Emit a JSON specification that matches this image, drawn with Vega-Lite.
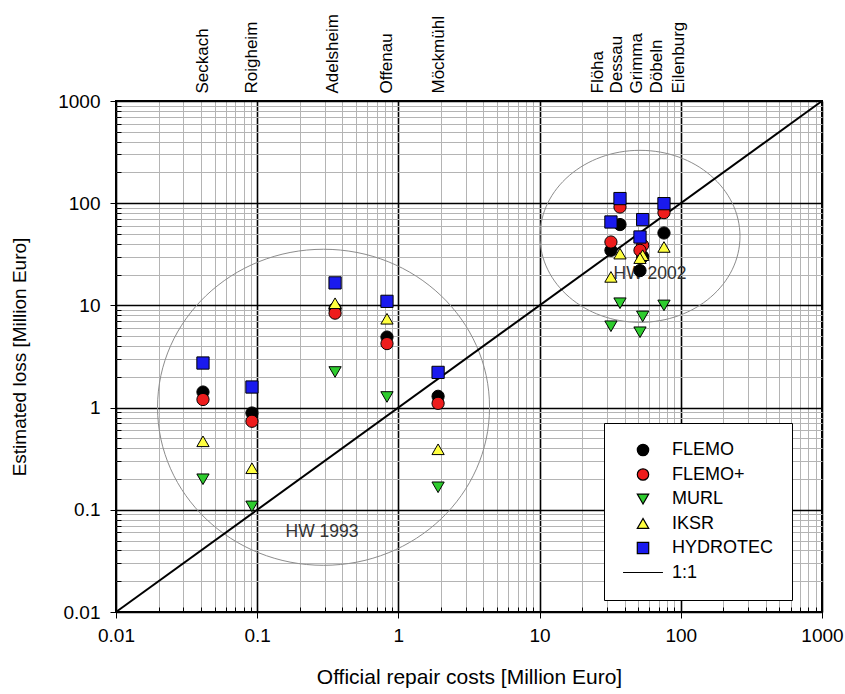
{
  "$schema": "https://vega.github.io/schema/vega-lite/v6.json",
  "width": 706,
  "height": 511,
  "autosize": {"type": "none"},
  "padding": {"left": 116, "top": 101, "right": 23, "bottom": 82},
  "background": "white",
  "config": {
    "font": "Liberation Sans",
    "view": {"stroke": "black", "strokeWidth": 2},
    "legend": {
      "strokeColor": "black",
      "fillColor": "white",
      "padding": 18,
      "symbolSize": 130,
      "symbolStrokeColor": "black",
      "symbolStrokeWidth": 1.2,
      "symbolOffset": 12,
      "labelOffset": 20,
      "labelFontSize": 18,
      "labelColor": "black",
      "rowPadding": 6.5,
      "labelLimit": 300
    }
  },
  "datasets": {
    "points": [
      {"site": "Seckach", "model": "FLEMO", "x": 0.0413, "y": 1.42},
      {"site": "Roigheim", "model": "FLEMO", "x": 0.0918, "y": 0.885},
      {"site": "Adelsheim", "model": "FLEMO", "x": 0.356, "y": 9.3},
      {"site": "Offenau", "model": "FLEMO", "x": 0.83, "y": 4.9},
      {"site": "Möckmühl", "model": "FLEMO", "x": 1.91, "y": 1.29},
      {"site": "Flöha", "model": "FLEMO", "x": 32.0, "y": 34.6},
      {"site": "Dessau", "model": "FLEMO", "x": 37.1, "y": 61.8},
      {"site": "Grimma", "model": "FLEMO", "x": 53.7, "y": 30.0},
      {"site": "Döbeln", "model": "FLEMO", "x": 51.4, "y": 21.9},
      {"site": "Eilenburg", "model": "FLEMO", "x": 76.0, "y": 51.1},
      {"site": "Seckach", "model": "FLEMO+", "x": 0.0413, "y": 1.2},
      {"site": "Roigheim", "model": "FLEMO+", "x": 0.0918, "y": 0.735},
      {"site": "Adelsheim", "model": "FLEMO+", "x": 0.356, "y": 8.4},
      {"site": "Offenau", "model": "FLEMO+", "x": 0.83, "y": 4.23},
      {"site": "Möckmühl", "model": "FLEMO+", "x": 1.91, "y": 1.1},
      {"site": "Flöha", "model": "FLEMO+", "x": 32.0, "y": 41.7},
      {"site": "Dessau", "model": "FLEMO+", "x": 37.1, "y": 91.8},
      {"site": "Grimma", "model": "FLEMO+", "x": 53.7, "y": 38.7},
      {"site": "Döbeln", "model": "FLEMO+", "x": 51.4, "y": 34.6},
      {"site": "Eilenburg", "model": "FLEMO+", "x": 76.0, "y": 80.9},
      {"site": "Seckach", "model": "MURL", "x": 0.0413, "y": 0.199},
      {"site": "Roigheim", "model": "MURL", "x": 0.0918, "y": 0.108},
      {"site": "Adelsheim", "model": "MURL", "x": 0.356, "y": 2.23},
      {"site": "Offenau", "model": "MURL", "x": 0.83, "y": 1.27},
      {"site": "Möckmühl", "model": "MURL", "x": 1.91, "y": 0.166},
      {"site": "Flöha", "model": "MURL", "x": 32.0, "y": 6.25},
      {"site": "Dessau", "model": "MURL", "x": 37.1, "y": 10.5},
      {"site": "Grimma", "model": "MURL", "x": 53.7, "y": 7.8},
      {"site": "Döbeln", "model": "MURL", "x": 51.4, "y": 5.46},
      {"site": "Eilenburg", "model": "MURL", "x": 76.0, "y": 10.0},
      {"site": "Seckach", "model": "IKSR", "x": 0.0413, "y": 0.468},
      {"site": "Roigheim", "model": "IKSR", "x": 0.0918, "y": 0.255},
      {"site": "Adelsheim", "model": "IKSR", "x": 0.356, "y": 10.5},
      {"site": "Offenau", "model": "IKSR", "x": 0.83, "y": 7.4},
      {"site": "Möckmühl", "model": "IKSR", "x": 1.91, "y": 0.391},
      {"site": "Flöha", "model": "IKSR", "x": 32.0, "y": 19.0},
      {"site": "Dessau", "model": "IKSR", "x": 37.1, "y": 32.1},
      {"site": "Grimma", "model": "IKSR", "x": 53.7, "y": 31.0},
      {"site": "Döbeln", "model": "IKSR", "x": 51.4, "y": 29.0},
      {"site": "Eilenburg", "model": "IKSR", "x": 76.0, "y": 37.3},
      {"site": "Seckach", "model": "HYDROTEC", "x": 0.0413, "y": 2.73},
      {"site": "Roigheim", "model": "HYDROTEC", "x": 0.0918, "y": 1.59},
      {"site": "Adelsheim", "model": "HYDROTEC", "x": 0.356, "y": 16.6},
      {"site": "Offenau", "model": "HYDROTEC", "x": 0.83, "y": 10.96},
      {"site": "Möckmühl", "model": "HYDROTEC", "x": 1.91, "y": 2.21},
      {"site": "Flöha", "model": "HYDROTEC", "x": 32.0, "y": 65.5},
      {"site": "Dessau", "model": "HYDROTEC", "x": 37.1, "y": 111},
      {"site": "Grimma", "model": "HYDROTEC", "x": 53.7, "y": 69.1},
      {"site": "Döbeln", "model": "HYDROTEC", "x": 51.4, "y": 46.7},
      {"site": "Eilenburg", "model": "HYDROTEC", "x": 76.0, "y": 99}
    ],
    "oneToOne": [
      {"x": 0.01, "y": 0.01},
      {"x": 1000, "y": 1000}
    ],
    "hw1993": [{"x": 0.295, "y": 1.007}],
    "hw2002": [{"x": 51.4, "y": 47.4}],
    "notes": [
      {"label": "HW 1993", "x": 0.288, "y": 0.0602},
      {"label": "HW 2002", "x": 60.5, "y": 20.1}
    ]
  },
  "resolve": {"axis": {"x": "independent", "y": "independent"}},
  "layer": [
    {
      "data": {"name": "hw1993"},
      "mark": {"type": "point", "shape": "M -1 0 A 1 0.952 0 1 1 1 0 A 1 0.952 0 1 1 -1 0 Z", "size": 110224, "filled": false, "stroke": "#8c8c8c", "strokeWidth": 1, "opacity": 1},
      "encoding": {
        "x": {"field": "x", "type": "quantitative", "scale": {"type": "log", "domain": [0.01, 1000], "nice": false}, "axis": null},
        "y": {"field": "y", "type": "quantitative", "scale": {"type": "log", "domain": [0.01, 1000], "nice": false}, "axis": null}
      }
    },
    {
      "data": {"name": "hw2002"},
      "mark": {"type": "point", "shape": "M -1 0 A 1 0.86 0 1 1 1 0 A 1 0.86 0 1 1 -1 0 Z", "size": 40000, "filled": false, "stroke": "#8c8c8c", "strokeWidth": 1, "opacity": 1},
      "encoding": {
        "x": {"field": "x", "type": "quantitative", "scale": {"type": "log", "domain": [0.01, 1000], "nice": false}, "axis": null},
        "y": {"field": "y", "type": "quantitative", "scale": {"type": "log", "domain": [0.01, 1000], "nice": false}, "axis": null}
      }
    },
    {
      "data": {"name": "notes"},
      "mark": {"type": "text", "fontSize": 17.5, "color": "#333333", "align": "center", "baseline": "middle"},
      "encoding": {
        "x": {"field": "x", "type": "quantitative", "scale": {"type": "log", "domain": [0.01, 1000], "nice": false}, "axis": null},
        "y": {"field": "y", "type": "quantitative", "scale": {"type": "log", "domain": [0.01, 1000], "nice": false}, "axis": null},
        "text": {"field": "label", "type": "nominal"}
      }
    },
    {
      "data": {"name": "oneToOne"},
      "mark": {"type": "line", "color": "black", "strokeWidth": 2},
      "encoding": {
        "x": {
          "field": "x", "type": "quantitative",
          "scale": {"type": "log", "domain": [0.01, 1000], "nice": false},
          "axis": {
            "orient": "top",
            "values": [0.0413, 0.0918, 0.344, 0.817, 1.91, 25.5, 34.8, 48.2, 67.8, 97.1],
            "labelExpr": "datum.value < 0.06 ? 'Seckach' : datum.value < 0.2 ? 'Roigheim' : datum.value < 0.5 ? 'Adelsheim' : datum.value < 1.2 ? 'Offenau' : datum.value < 5 ? 'Möckmühl' : datum.value < 30 ? 'Flöha' : datum.value < 40 ? 'Dessau' : datum.value < 55 ? 'Grimma' : datum.value < 80 ? 'Döbeln' : 'Eilenburg'",
            "ticks": false,
            "domain": false,
            "grid": false,
            "labelAngle": 270,
            "labelAlign": "left",
            "labelBaseline": "middle",
            "labelFontSize": 17,
            "labelColor": "black",
            "labelPadding": 8,
            "labelOverlap": false,
            "labelBound": false,
            "labelFlush": false,
            "title": null
          }
        },
        "y": {"field": "y", "type": "quantitative", "scale": {"type": "log", "domain": [0.01, 1000], "nice": false}, "axis": null}
      }
    },
    {
      "data": {"name": "points"},
      "mark": {"type": "point", "filled": true, "size": 150, "strokeWidth": 1, "opacity": 1},
      "encoding": {
        "x": {
          "field": "x", "type": "quantitative",
          "scale": {"type": "log", "domain": [0.01, 1000], "nice": false},
          "axis": {
            "orient": "bottom",
            "values": [0.01,0.02,0.03,0.04,0.05,0.06,0.07,0.08,0.09,0.1,0.2,0.3,0.4,0.5,0.6,0.7,0.8,0.9,1,2,3,4,5,6,7,8,9,10,20,30,40,50,60,70,80,90,100,200,300,400,500,600,700,800,900,1000],
            "grid": true,
            "gridColor": {"condition": {"test": "abs(log(datum.value)/LN10 - round(log(datum.value)/LN10)) < 1e-6", "value": "black"}, "value": "#b4b4b4"},
            "gridWidth": {"condition": {"test": "abs(log(datum.value)/LN10 - round(log(datum.value)/LN10)) < 1e-6", "value": 1.6}, "value": 1},
            "tickSize": {"condition": {"test": "abs(log(datum.value)/LN10 - round(log(datum.value)/LN10)) < 1e-6", "value": 6}, "value": -5},
            "tickColor": "black",
            "domain": false,
            "labelExpr": "abs(log(datum.value)/LN10 - round(log(datum.value)/LN10)) < 1e-6 ? format(datum.value, '~g') : ''",
            "labelFontSize": 19,
            "labelColor": "black",
            "labelPadding": 8,
            "labelOverlap": false,
            "labelBound": false,
            "labelFlush": false,
            "title": "Official repair costs [Million Euro]",
            "titleFontSize": 21,
            "titleFontWeight": "normal",
            "titleColor": "black",
            "titlePadding": 21
          }
        },
        "y": {
          "field": "y", "type": "quantitative",
          "scale": {"type": "log", "domain": [0.01, 1000], "nice": false},
          "axis": {
            "orient": "left",
            "values": [0.01,0.02,0.03,0.04,0.05,0.06,0.07,0.08,0.09,0.1,0.2,0.3,0.4,0.5,0.6,0.7,0.8,0.9,1,2,3,4,5,6,7,8,9,10,20,30,40,50,60,70,80,90,100,200,300,400,500,600,700,800,900,1000],
            "grid": true,
            "gridColor": {"condition": {"test": "abs(log(datum.value)/LN10 - round(log(datum.value)/LN10)) < 1e-6", "value": "black"}, "value": "#b4b4b4"},
            "gridWidth": {"condition": {"test": "abs(log(datum.value)/LN10 - round(log(datum.value)/LN10)) < 1e-6", "value": 1.6}, "value": 1},
            "tickSize": {"condition": {"test": "abs(log(datum.value)/LN10 - round(log(datum.value)/LN10)) < 1e-6", "value": 6}, "value": -5},
            "tickColor": "black",
            "domain": false,
            "labelExpr": "abs(log(datum.value)/LN10 - round(log(datum.value)/LN10)) < 1e-6 ? format(datum.value, '~g') : ''",
            "labelFontSize": 19,
            "labelColor": "black",
            "labelPadding": 10,
            "labelOverlap": false,
            "labelBound": false,
            "labelFlush": false,
            "title": "Estimated loss [Million Euro]",
            "titleFontSize": 19,
            "titleFontWeight": "normal",
            "titleColor": "black",
            "titlePadding": 28
          }
        },
        "fill": {
          "field": "model", "type": "nominal",
          "scale": {
            "domain": ["FLEMO", "FLEMO+", "MURL", "IKSR", "HYDROTEC", "1:1"],
            "range": ["#000000", "#ee1c1c", "#2ecc2e", "#ffff40", "#1a1aee", "#000000"]
          },
          "legend": {"title": null, "orient": "none", "legendX": 488, "legendY": 322}
        },
        "stroke": {
          "field": "model", "type": "nominal",
          "scale": {
            "domain": ["FLEMO", "FLEMO+", "MURL", "IKSR", "HYDROTEC", "1:1"],
            "range": ["#000000", "#000000", "#000000", "#000000", "#000000", "#000000"]
          },
          "legend": {"title": null, "orient": "none", "legendX": 488, "legendY": 322}
        },
        "shape": {
          "field": "model", "type": "nominal",
          "scale": {
            "domain": ["FLEMO", "FLEMO+", "MURL", "IKSR", "HYDROTEC", "1:1"],
            "range": ["circle", "circle", "triangle-down", "triangle-up", "square", "M -3.5 0 L 3.5 0"]
          },
          "legend": {"title": null, "orient": "none", "legendX": 488, "legendY": 322}
        }
      }
    }
  ]
}
